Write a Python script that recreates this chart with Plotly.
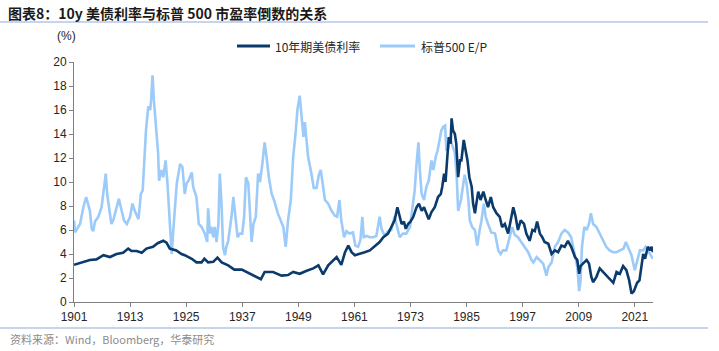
import plotly.graph_objects as go

# ---------------- data ----------------
series_names = ["10年期美债利率", "标普500 E/P"]

ust_year = [1901.0, 1904.4, 1905.8, 1907.3, 1908.7, 1910.1, 1911.5, 1912.6, 1913.3, 1914.4,
            1915.5, 1916.5, 1917.9, 1918.9, 1920.1, 1920.8, 1921.5, 1922.2, 1922.9, 1924.0,
            1924.7, 1926.2, 1927.2, 1928.3, 1928.9, 1929.7, 1930.8, 1931.7, 1932.6, 1934.0,
            1935.3, 1936.9, 1937.9, 1939.7, 1941.0, 1941.8, 1943.6, 1945.4, 1946.8, 1947.9,
            1949.3, 1950.8, 1952.2, 1953.3, 1954.3, 1955.4, 1956.5, 1957.2, 1958.2, 1959.0,
            1959.7, 1960.4, 1961.1, 1962.2, 1963.2, 1964.3, 1965.4, 1966.4, 1967.2, 1968.2,
            1968.9, 1969.6, 1970.2, 1970.7, 1971.1, 1971.6, 1972.0, 1972.5, 1973.0, 1973.6,
            1974.3, 1974.8, 1975.4, 1975.9, 1976.4, 1976.9, 1977.5, 1978.2, 1978.9, 1979.5,
            1979.8, 1980.2, 1980.5, 1980.9, 1981.2, 1981.6, 1981.8, 1982.1, 1982.5, 1982.8,
            1983.2, 1983.6, 1983.9, 1984.4, 1984.8, 1985.2, 1985.6, 1986.1, 1986.4, 1986.8,
            1987.1, 1987.5, 1988.0, 1988.6, 1989.1, 1989.6, 1990.2, 1990.7, 1991.4, 1992.1,
            1992.6, 1993.2, 1993.9, 1994.5, 1995.0, 1995.5, 1996.0, 1996.6, 1997.3, 1997.8,
            1998.5, 1999.1, 1999.6, 2000.1, 2000.7, 2001.2, 2001.7, 2002.5, 2003.2, 2003.9,
            2004.6, 2005.3, 2006.0, 2006.7, 2007.4, 2008.2, 2008.7, 2009.1, 2009.4, 2009.9,
            2010.7, 2011.2, 2011.7, 2012.1, 2012.8, 2013.5, 2014.2, 2014.9, 2015.6, 2016.4,
            2017.1, 2017.8, 2018.5, 2019.2, 2019.8, 2020.3, 2020.8, 2021.5, 2022.0, 2022.5,
            2022.8, 2023.2, 2023.8, 2024.3, 2024.6, 2024.9]
ust_value = [3.1, 3.5, 3.55, 3.9, 3.75, 4.0, 4.1, 4.45, 4.25, 4.25,
             4.1, 4.45, 4.6, 4.9, 5.1, 4.95, 4.45, 4.35, 4.3, 4.0,
             3.9, 3.6, 3.3, 3.3, 3.6, 3.3, 3.35, 3.7, 3.3, 3.05,
             2.7, 2.7, 2.5, 2.15, 1.9, 2.5, 2.5, 2.2, 2.25, 2.5,
             2.35, 2.6, 2.8, 3.05, 2.3, 3.05, 3.5, 3.75, 3.1, 4.15,
             4.7, 4.15, 3.9, 4.0, 4.15, 4.3, 4.7, 5.0, 5.4, 5.7,
             6.25, 6.8, 7.9, 7.1, 6.5, 6.7, 6.1, 6.5, 6.7, 7.1,
             7.9, 8.2, 7.6, 7.9, 7.4, 6.9, 7.5, 7.9, 8.75, 9.0,
             9.6, 10.7, 10.0, 12.6, 13.75, 13.2, 15.3, 14.3, 14.0, 13.2,
             10.4, 11.8, 11.8, 13.5, 12.6, 11.8, 10.4, 9.6, 8.2, 7.4,
             8.2, 9.2, 8.5, 9.2, 8.5, 7.9, 8.75, 7.9, 7.4, 7.1,
             6.25, 6.5, 5.7, 7.1, 7.9, 7.1, 6.0, 6.8, 6.5, 5.7,
             5.1, 6.0, 5.9, 6.7, 5.7, 5.4, 5.0, 4.85, 4.0, 4.3,
             4.15, 4.7, 4.6, 5.1, 4.6, 3.75, 3.5, 2.35, 3.0, 3.2,
             3.5, 3.2, 2.1, 1.65, 2.1, 2.8, 2.5, 2.2, 1.95, 1.6,
             2.5, 2.35, 3.0, 2.65, 1.8, 0.7, 0.9, 1.6, 1.8, 3.0,
             4.0, 3.6, 4.6, 4.3, 4.6, 4.15]

ep_year = [1901.0, 1901.2, 1902.3, 1903.0, 1903.6, 1904.1, 1904.4, 1904.8, 1905.1, 1905.5,
           1906.2, 1906.9, 1907.3, 1907.8, 1908.1, 1908.6, 1909.0, 1909.4, 1910.1, 1910.6,
           1911.2, 1911.7, 1912.3, 1913.0, 1913.5, 1914.0, 1914.8, 1915.3, 1915.7, 1916.0,
           1916.4, 1916.9, 1917.3, 1917.5, 1917.8, 1918.1, 1918.5, 1919.0, 1919.2, 1919.7,
           1920.1, 1920.6, 1921.0, 1921.4, 1921.9, 1922.4, 1923.0, 1923.7, 1924.2, 1924.7,
           1925.1, 1925.5, 1926.2, 1926.5, 1927.2, 1927.7, 1928.3, 1929.0, 1929.5, 1929.7,
           1930.1, 1930.4, 1930.8, 1931.1, 1931.5, 1931.9, 1932.2, 1932.6, 1932.9, 1933.3,
           1933.6, 1934.0, 1934.7, 1935.1, 1935.6, 1936.0, 1936.5, 1937.0, 1937.4, 1937.8,
           1938.3, 1938.6, 1939.0, 1939.4, 1939.9, 1940.4, 1940.8, 1941.3, 1941.8, 1942.2,
           1942.7, 1943.3, 1943.8, 1944.6, 1945.3, 1945.8, 1946.3, 1946.8, 1947.4, 1947.9,
           1948.4, 1948.8, 1949.3, 1949.7, 1950.1, 1950.4, 1950.8, 1951.1, 1951.8, 1952.3,
           1952.9, 1953.4, 1953.8, 1954.1, 1954.7, 1955.4, 1956.1, 1956.8, 1957.3, 1957.8,
           1958.2, 1958.8, 1959.3, 1959.9, 1960.7, 1961.2, 1961.8, 1962.3, 1962.7, 1963.0,
           1963.6, 1964.3, 1965.0, 1965.7, 1966.4, 1966.8, 1967.5, 1968.2, 1968.9, 1969.6,
           1970.1, 1970.7, 1971.4, 1972.1, 1972.9, 1973.6, 1973.9, 1974.3, 1974.7, 1975.0,
           1975.4, 1975.9, 1976.4, 1976.9, 1977.5, 1977.9, 1978.4, 1978.8, 1979.3, 1979.6,
           1980.0, 1980.4, 1980.7, 1981.1, 1981.4, 1981.9, 1982.5, 1982.9, 1983.2, 1983.8,
           1984.3, 1984.6, 1985.0, 1985.4, 1985.7, 1986.2, 1986.8, 1987.3, 1987.8, 1988.2,
           1988.7, 1989.1, 1989.6, 1990.3, 1991.1, 1991.8, 1992.3, 1992.8, 1993.5, 1994.3,
           1994.8, 1995.3, 1996.0, 1996.7, 1997.5, 1998.2, 1998.9, 1999.3, 2000.0, 2000.7,
           2001.4, 2002.1, 2002.5, 2003.2, 2003.9, 2004.6, 2005.3, 2006.0, 2006.7, 2007.4,
           2008.2, 2008.7, 2009.1, 2009.4, 2009.7, 2010.2, 2010.7, 2011.2, 2011.6, 2012.1,
           2012.8, 2013.5, 2014.2, 2014.9, 2015.6, 2016.4, 2017.1, 2017.8, 2018.6, 2019.1,
           2019.6, 2020.3, 2021.0, 2021.5, 2022.1, 2022.8, 2023.3, 2023.8, 2024.3, 2024.9]
ep_value = [6.8, 5.8, 6.5, 7.9, 8.75, 7.9, 7.6, 6.1, 5.9, 6.7,
            7.1, 7.9, 9.0, 10.7, 9.0, 7.4, 6.5, 6.8, 7.9, 8.6,
            7.6, 6.8, 6.5, 7.1, 8.2, 7.6, 6.9, 9.0, 9.3, 11.8,
            14.3, 16.3, 16.0, 16.8, 18.9, 16.8, 14.6, 12.4, 10.1, 11.0,
            10.4, 11.8, 9.9, 7.6, 4.0, 6.8, 9.9, 11.5, 11.25, 9.0,
            9.9, 10.1, 10.8, 9.6, 8.75, 6.5, 6.25, 5.7, 5.0, 7.8,
            5.7, 6.25, 5.4, 6.25, 5.0, 6.5, 10.7, 7.9, 4.6, 3.9,
            4.6, 5.1, 7.1, 8.75, 6.8, 5.4, 5.7, 5.7, 7.1, 10.4,
            9.9, 7.6, 5.0, 6.5, 7.1, 10.7, 10.0, 11.5, 13.3, 12.1,
            10.4, 9.0, 8.5, 7.4, 6.7, 6.25, 4.6, 6.8, 8.5, 12.1,
            14.0, 16.0, 17.2, 15.7, 13.75, 15.0, 13.5, 12.1, 10.7, 9.5,
            9.5, 10.6, 11.0, 10.1, 8.5, 8.2, 7.6, 7.2, 7.1, 8.5,
            6.8, 5.4, 5.9, 5.7, 5.8, 4.7, 4.6, 5.2, 7.1, 5.4,
            5.5, 5.4, 5.4, 5.5, 7.1, 6.1, 5.5, 5.9, 6.0, 7.1,
            6.25, 5.4, 5.7, 5.7, 6.25, 8.5, 9.3, 11.5, 13.3, 11.0,
            9.0, 8.5, 9.6, 10.1, 11.8, 11.0, 12.1, 12.6, 13.5, 14.3,
            14.6, 14.7, 12.6, 12.8, 13.75, 13.2, 12.4, 10.4, 7.6, 8.5,
            9.6, 10.6, 9.9, 8.5, 6.8, 6.25, 6.0, 4.7, 6.0, 6.8,
            8.2, 7.1, 6.5, 5.8, 5.7, 4.3, 4.0, 4.3, 4.3, 5.4,
            6.25, 5.6, 5.4, 5.0, 4.6, 4.15, 3.5, 3.3, 3.75, 3.5,
            3.2, 2.2, 2.9, 3.3, 4.6, 5.0, 5.7, 6.0, 5.8, 5.4,
            4.0, 2.9, 0.9, 1.8, 4.6, 6.25, 6.0, 6.5, 7.4, 6.5,
            6.25, 5.7, 5.1, 4.6, 4.3, 4.15, 4.15, 4.3, 4.45, 5.0,
            4.5, 3.9, 2.65, 3.5, 4.3, 4.3, 4.6, 4.3, 4.0, 3.6]

x_tick_years = [1901, 1913, 1925, 1937, 1949, 1961, 1973, 1985, 1997, 2009, 2021]
y_tick_values = [0, 2, 4, 6, 8, 10, 12, 14, 16, 18, 20]

title_text = "图表8：10y 美债利率与标普 500 市盈率倒数的关系"
source_text = "资料来源：Wind，Bloomberg，华泰研究"
unit_text = "(%)"

# ---------------- styling ----------------
DARK = "#0B3A6C"
LIGHT = "#9CCBF9"
AXIS = "#808080"
RULE = "#8EAADB"
CJK = "Noto Sans CJK SC"
LAT = "Liberation Sans"

W, H = 719, 351
L, R, T, B = 74, 66, 62, 49
pw, ph = W - L - R, H - T - B


def px_x(px):
    return (px - L) / pw


def px_y(py):
    return (H - B - py) / ph


fig = go.Figure()
fig.add_trace(go.Scatter(x=ep_year, y=ep_value, mode="lines", name=series_names[1],
                         line=dict(color=LIGHT, width=2.6), showlegend=False))
fig.add_trace(go.Scatter(x=ust_year, y=ust_value, mode="lines", name=series_names[0],
                         line=dict(color=DARK, width=2.6), showlegend=False))

fig.update_layout(
    width=W, height=H,
    margin=dict(l=L, r=R, t=T, b=B),
    paper_bgcolor="white", plot_bgcolor="white",
    font=dict(family=LAT, size=12, color="#262626"),
    title=dict(text="<b>" + title_text + "</b>", x=8 / W, y=1 - 14 / H,
               xref="container", yref="container", xanchor="left", yanchor="middle",
               font=dict(family=CJK, size=14, color="#1a1a1a")),
)

fig.update_xaxes(range=[1901, 2024.9], tickmode="array", tickvals=x_tick_years,
                 ticktext=[str(v) for v in x_tick_years],
                 showgrid=False, zeroline=False, showline=True, linecolor=AXIS, linewidth=1,
                 ticks="outside", ticklen=4, tickcolor=AXIS,
                 tickfont=dict(family=LAT, size=12, color="#262626"))
fig.update_yaxes(range=[0, 20], tickmode="array", tickvals=y_tick_values,
                 showgrid=False, zeroline=False, showline=True, linecolor=AXIS, linewidth=1,
                 ticks="outside", ticklen=4, tickcolor=AXIS,
                 tickfont=dict(family=LAT, size=12, color="#262626"))

shapes = [
    dict(type="line", xref="paper", yref="paper", x0=px_x(0), x1=px_x(708),
         y0=px_y(22), y1=px_y(22), line=dict(color=RULE, width=1.2)),
    dict(type="line", xref="paper", yref="paper", x0=px_x(0), x1=px_x(708),
         y0=px_y(328), y1=px_y(328), line=dict(color=RULE, width=1.2)),
    dict(type="line", xref="paper", yref="paper", x0=px_x(237), x1=px_x(270),
         y0=px_y(46), y1=px_y(46), line=dict(color=DARK, width=3)),
    dict(type="line", xref="paper", yref="paper", x0=px_x(380), x1=px_x(415),
         y0=px_y(46), y1=px_y(46), line=dict(color=LIGHT, width=3)),
]
fig.update_layout(shapes=shapes)

annotations = [
    dict(text=series_names[0], xref="paper", yref="paper", x=px_x(273), y=px_y(46),
         xanchor="left", yanchor="middle", showarrow=False,
         font=dict(family=CJK, size=12, color="#262626")),
    dict(text=series_names[1], xref="paper", yref="paper", x=px_x(419), y=px_y(46),
         xanchor="left", yanchor="middle", showarrow=False,
         font=dict(family=CJK, size=12, color="#262626")),
    dict(text=unit_text, xref="paper", yref="paper", x=px_x(66), y=px_y(36),
         xanchor="center", yanchor="middle", showarrow=False,
         font=dict(family=LAT, size=12, color="#262626")),
    dict(text=source_text, xref="paper", yref="paper", x=px_x(8), y=px_y(339),
         xanchor="left", yanchor="middle", showarrow=False,
         font=dict(family=CJK, size=11, color="#8c8c8c")),
]
fig.update_layout(annotations=annotations)

fig.write_html("out.html")
